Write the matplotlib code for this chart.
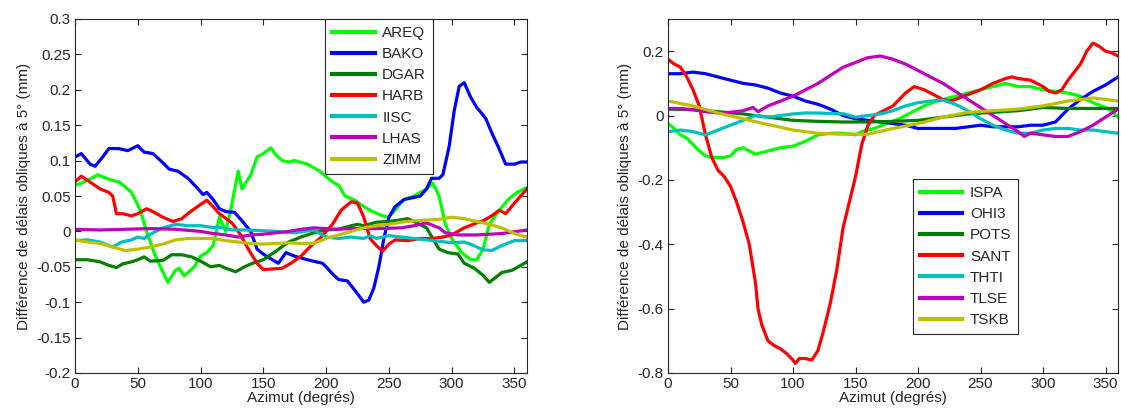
import matplotlib.pyplot as plt

plt.rcParams['font.family'] = ['Liberation Sans', 'DejaVu Sans']

# ---- left panel ----
areq_az = [0, 5, 10, 18, 25, 30, 35, 40, 45, 52, 57, 63, 68, 74, 80, 83, 87, 95, 100, 105, 110, 115,
           120, 124, 130, 133, 140, 145, 150, 156, 160, 165, 170, 175, 185, 195, 205, 210, 215, 222,
           230, 237, 245, 250, 255, 262, 270, 280, 285, 290, 295, 300, 308, 315, 320, 325, 330, 338,
           345, 352, 360]
areq = [0.065, 0.068, 0.072, 0.08, 0.075, 0.072, 0.07, 0.063, 0.055, 0.03, 0.0, -0.03, -0.05, -0.072,
        -0.055, -0.052, -0.063, -0.05, -0.035, -0.03, -0.02, 0.02, 0.0, 0.03, 0.085, 0.06, 0.08, 0.105,
        0.11, 0.118, 0.108, 0.1, 0.098, 0.1, 0.095, 0.085, 0.07, 0.065, 0.05, 0.045, 0.035, 0.028, 0.022,
        0.02, 0.03, 0.045, 0.05, 0.06, 0.068, 0.05, 0.01, -0.01, -0.03, -0.04, -0.04, -0.025, 0.01,
        0.03, 0.045, 0.055, 0.062]

bako_az = [0, 5, 12, 16, 22, 27, 35, 42, 50, 55, 62, 70, 75, 82, 90, 97, 102, 105, 110, 115, 120, 127,
           133, 140, 145, 150, 157, 162, 168, 175, 185, 197, 200, 205, 210, 217, 225, 230, 234, 238,
           242, 246, 250, 255, 262, 270, 275, 280, 284, 290, 293, 298, 302, 306, 310, 315, 320, 327,
           333, 337, 343, 350, 355, 360]
bako = [0.105, 0.11, 0.095, 0.092, 0.105, 0.117, 0.117, 0.114, 0.121, 0.112, 0.11, 0.097, 0.088, 0.085,
        0.075, 0.062, 0.052, 0.055, 0.045, 0.032, 0.028, 0.027, 0.015, 0.0, -0.025, -0.032, -0.04,
        -0.045, -0.03, -0.035, -0.04, -0.045, -0.05, -0.06, -0.068, -0.07, -0.088, -0.1, -0.097, -0.08,
        -0.05, -0.01, 0.02, 0.035, 0.045, 0.048, 0.05, 0.06, 0.075, 0.075, 0.08, 0.12, 0.17, 0.205,
        0.21, 0.19, 0.175, 0.16, 0.135, 0.12, 0.095, 0.095, 0.098, 0.098]

dgar_az = [0, 10, 20, 27, 33, 38, 45, 50, 55, 60, 70, 77, 85, 93, 100, 108, 115, 120, 128, 135, 140,
           150, 160, 170, 180, 190, 200, 210, 220, 225, 230, 240, 250, 258, 265, 270, 280, 285, 290,
           297, 305, 310, 318, 325, 330, 335, 340, 348, 355, 360]
dgar = [-0.04, -0.04, -0.043, -0.048, -0.051, -0.046, -0.043, -0.04, -0.036, -0.042, -0.041, -0.033,
        -0.033, -0.036, -0.042, -0.05, -0.048, -0.052, -0.057, -0.05, -0.046, -0.04, -0.028, -0.015,
        -0.008, -0.002, 0.002, 0.003, 0.008, 0.01, 0.008, 0.013, 0.014, 0.016, 0.018, 0.014, 0.005,
        -0.01, -0.025, -0.03, -0.032, -0.045, -0.052, -0.062, -0.072, -0.065, -0.058, -0.055, -0.048,
        -0.043]

harb_az = [0, 5, 10, 15, 20, 27, 30, 33, 38, 45, 50, 57, 62, 70, 78, 85, 92, 100, 105, 110, 115, 125,
           132, 138, 145, 150, 158, 165, 172, 180, 187, 195, 205, 212, 220, 225, 230, 235, 240, 245,
           250, 255, 265, 275, 285, 293, 300, 310, 320, 325, 332, 338, 343, 350, 355, 360]
harb = [0.07, 0.078, 0.072, 0.066, 0.06, 0.055, 0.05, 0.025, 0.025, 0.022, 0.025, 0.032, 0.028, 0.02,
        0.014, 0.018, 0.028, 0.038, 0.044, 0.035, 0.025, 0.012, -0.005, -0.025, -0.045, -0.054, -0.053,
        -0.052, -0.045, -0.035, -0.022, -0.01, 0.01, 0.03, 0.042, 0.04, 0.02, -0.01, -0.02, -0.028,
        -0.018, -0.012, -0.013, -0.01, -0.01, -0.008, -0.005, 0.005, 0.012, 0.015, 0.022, 0.03, 0.025,
        0.04, 0.05, 0.06]

iisc_az = [0, 10, 20, 30, 37, 45, 50, 55, 60, 70, 80, 90, 100, 108, 118, 125, 135, 150, 160, 175, 190,
           200, 210, 220, 230, 235, 240, 250, 260, 270, 280, 290, 300, 310, 315, 325, 332, 340, 350, 360]
iisc = [-0.013, -0.012, -0.015, -0.022, -0.015, -0.012, -0.008, -0.01, -0.004, 0.005, 0.01, 0.008,
        0.008, 0.006, 0.005, 0.002, 0.002, 0.001, 0.0, -0.002, 0.002, -0.008, -0.01, -0.008, -0.01,
        -0.006, -0.01, -0.006, -0.008, -0.01, -0.012, -0.014, -0.016, -0.015, -0.018, -0.026, -0.027,
        -0.02, -0.013, -0.013]

lhas_az = [0, 20, 40, 60, 80, 100, 110, 120, 130, 140, 150, 160, 170, 180, 190, 200, 210, 220, 240, 260,
           270, 280, 290, 295, 305, 320, 340, 360]
lhas = [0.003, 0.002, 0.003, 0.004, 0.003, 0.0, -0.003, -0.005, -0.008, -0.005, -0.004, -0.002, 0.0,
        0.003, 0.005, 0.004, 0.003, 0.004, 0.004, 0.005, 0.008, 0.012, 0.005, -0.002, -0.005, -0.005,
        -0.003, 0.002]

zimm_az = list(range(0, 361, 10))
zimm = [-0.012, -0.015, -0.017, -0.022, -0.027, -0.025, -0.022, -0.018, -0.012, -0.01, -0.01, -0.01,
        -0.013, -0.015, -0.017, -0.018, -0.017, -0.016, -0.017, -0.017, -0.01, -0.005, 0.0, 0.005,
        0.008, 0.01, 0.013, 0.015, 0.016, 0.017, 0.02, 0.018, 0.014, 0.01, 0.005, -0.003, -0.008]

# ---- right panel ----
ispa_az = [0, 5, 10, 15, 20, 25, 30, 35, 45, 50, 55, 60, 65, 70, 75, 80, 90, 100, 110, 115, 120, 130,
           140, 150, 155, 165, 175, 185, 195, 205, 215, 225, 235, 245, 255, 265, 270, 280, 290, 300,
           310, 320, 330, 340, 350, 355, 360]
ispa = [-0.025, -0.04, -0.06, -0.07, -0.09, -0.11, -0.125, -0.13, -0.13, -0.125, -0.105, -0.1, -0.11,
        -0.12, -0.115, -0.11, -0.1, -0.095, -0.08, -0.07, -0.06, -0.055, -0.055, -0.06, -0.05, -0.04,
        -0.025, -0.01, 0.01, 0.03, 0.045, 0.055, 0.065, 0.075, 0.085, 0.095, 0.1, 0.09, 0.09, 0.08,
        0.075, 0.07, 0.06, 0.04, 0.025, 0.015, -0.005]

ohi3_az = [0, 10, 20, 30, 40, 50, 60, 70, 80, 90, 100, 110, 120, 130, 140, 150, 160, 170, 180, 190, 200,
           210, 220, 230, 240, 250, 260, 270, 280, 290, 300, 310, 315, 320, 330, 340, 350, 360]
ohi3 = [0.13, 0.13, 0.135, 0.13, 0.12, 0.11, 0.1, 0.095, 0.085, 0.07, 0.06, 0.045, 0.035, 0.02, 0.0,
        -0.01, -0.015, -0.02, -0.025, -0.03, -0.04, -0.04, -0.04, -0.04, -0.035, -0.03, -0.035, -0.035,
        -0.035, -0.03, -0.03, -0.02, 0.0, 0.02, 0.05, 0.075, 0.095, 0.12]

pots_az = list(range(0, 361, 20))
pots = [0.02, 0.018, 0.012, 0.005, -0.005, -0.015, -0.018, -0.02, -0.02, -0.018, -0.015, -0.005, 0.005,
        0.01, 0.015, 0.025, 0.022, 0.022, 0.022]

sant_az = [0, 5, 10, 15, 20, 25, 30, 35, 40, 45, 50, 55, 60, 65, 70, 72, 75, 80, 85, 90, 95, 100, 102,
           105, 110, 115, 120, 125, 130, 135, 140, 145, 150, 155, 160, 165, 170, 180, 190, 197, 205, 210,
           220, 225, 230, 240, 250, 260, 270, 275, 280, 290, 300, 305, 310, 315, 320, 330, 335, 340, 345,
           350, 355, 360]
sant = [0.175, 0.16, 0.15, 0.12, 0.08, 0.03, -0.06, -0.13, -0.17, -0.19, -0.22, -0.27, -0.33, -0.4,
        -0.52, -0.6, -0.65, -0.7, -0.715, -0.725, -0.74, -0.76, -0.77, -0.755, -0.755, -0.76, -0.73,
        -0.66, -0.58, -0.48, -0.35, -0.27, -0.19, -0.09, -0.03, 0.0, 0.01, 0.03, 0.07, 0.09, 0.08, 0.07,
        0.05, 0.045, 0.05, 0.065, 0.08, 0.1, 0.115, 0.12, 0.115, 0.11, 0.09, 0.075, 0.07, 0.08, 0.11,
        0.16, 0.2, 0.225, 0.215, 0.2, 0.195, 0.185]

thti_az = [0, 10, 20, 30, 40, 50, 60, 70, 80, 90, 100, 110, 120, 130, 140, 150, 160, 170, 180, 190, 200,
           210, 220, 230, 240, 250, 260, 270, 280, 290, 300, 310, 320, 330, 340, 350, 360]
thti = [-0.05, -0.045, -0.05, -0.06, -0.045, -0.03, -0.015, 0.0, -0.005, 0.0, 0.005, 0.008, 0.008,
        0.006, 0.006, -0.005, 0.0, 0.005, 0.015, 0.03, 0.04, 0.045, 0.048, 0.035, 0.015, -0.01, -0.03,
        -0.045, -0.055, -0.055, -0.045, -0.04, -0.04, -0.045, -0.045, -0.05, -0.055]

tlse_az = [0, 10, 20, 30, 40, 50, 60, 68, 72, 80, 90, 100, 110, 120, 130, 140, 150, 160, 170, 180, 190,
           200, 210, 220, 230, 240, 250, 260, 270, 280, 285, 290, 300, 310, 320, 330, 340, 350, 360]
tlse = [0.022, 0.022, 0.018, 0.012, 0.008, 0.01, 0.015, 0.025, 0.012, 0.03, 0.045, 0.06, 0.08, 0.1,
        0.125, 0.15, 0.165, 0.18, 0.185, 0.175, 0.16, 0.14, 0.12, 0.1, 0.075, 0.05, 0.025, 0.0, -0.025,
        -0.05, -0.065, -0.055, -0.06, -0.065, -0.065, -0.05, -0.03, -0.005, 0.02]

tskb_az = list(range(0, 361, 20))
tskb = [0.045, 0.03, 0.008, -0.01, -0.028, -0.045, -0.055, -0.058, -0.058, -0.04, -0.025, -0.005, 0.01,
        0.015, 0.02, 0.03, 0.045, 0.055, 0.045]

colors = ['#00ff00', '#0000ff', '#007f00', '#ff0000', '#00bfbf', '#bf00bf', '#bfbf00']
text_col = '#262626'
fs = 11

left_series = [('AREQ', areq_az, areq), ('BAKO', bako_az, bako), ('DGAR', dgar_az, dgar),
               ('HARB', harb_az, harb), ('IISC', iisc_az, iisc), ('LHAS', lhas_az, lhas),
               ('ZIMM', zimm_az, zimm)]
right_series = [('ISPA', ispa_az, ispa), ('OHI3', ohi3_az, ohi3), ('POTS', pots_az, pots),
                ('SANT', sant_az, sant), ('THTI', thti_az, thti), ('TLSE', tlse_az, tlse),
                ('TSKB', tskb_az, tskb)]

fig = plt.figure(figsize=(11.21, 4.18), dpi=100)
ax1 = fig.add_axes([75 / 1121, 45 / 418, 452 / 1121, 354 / 418])
ax2 = fig.add_axes([668 / 1121, 45 / 418, 450 / 1121, 354 / 418])


def style_axes(ax, yticks, ylabels, ylim):
    ax.set_xlim(0, 360)
    ax.set_ylim(*ylim)
    ax.set_xticks(range(0, 351, 50))
    ax.set_yticks(yticks)
    ax.set_yticklabels(ylabels)
    ax.tick_params(direction='in', top=True, right=True, labelsize=fs, colors=text_col,
                   length=4, width=0.8, pad=3)
    for s in ax.spines.values():
        s.set_color(text_col)
        s.set_linewidth(0.8)
    ax.set_xlabel('Azimut (degrés)', fontsize=fs, color=text_col, labelpad=0)
    ax.set_ylabel('Différence de délais obliques à 5° (mm)', fontsize=fs, color=text_col)


for (name, az, val), c in zip(left_series, colors):
    ax1.plot(az, val, color=c, lw=2.3, label=name)
for (name, az, val), c in zip(right_series, colors):
    ax2.plot(az, val, color=c, lw=2.3, label=name)

ly = [0.3, 0.25, 0.2, 0.15, 0.1, 0.05, 0, -0.05, -0.1, -0.15, -0.2]
style_axes(ax1, ly, [('%g' % v) for v in ly], (-0.2, 0.3))
ry = [0.2, 0, -0.2, -0.4, -0.6, -0.8]
style_axes(ax2, ry, [('%g' % v) for v in ry], (-0.8, 0.3))

for ax, anchor, loc in [(ax1, (0.553, 1.0), 'upper left'), (ax2, (0.544, 0.11), 'lower left')]:
    leg = ax.legend(loc=loc, bbox_to_anchor=anchor, fontsize=fs, handlelength=2.8,
                    fancybox=False, framealpha=1, edgecolor=text_col, borderaxespad=0,
                    labelspacing=0.47, handletextpad=0.5, borderpad=0.45)
    leg.get_frame().set_linewidth(0.8)
    for line in leg.get_lines():
        line.set_linewidth(3)
    for t in leg.get_texts():
        t.set_color(text_col)

fig.savefig('out.png', dpi=100)
